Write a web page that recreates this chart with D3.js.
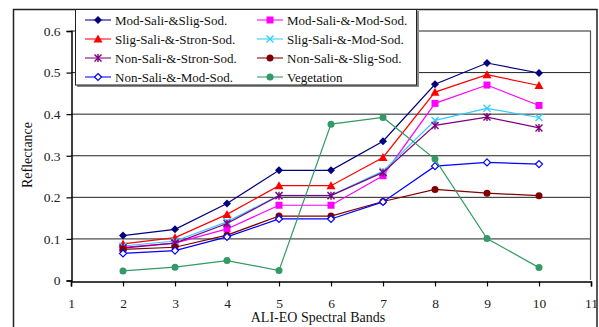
<!DOCTYPE html>
<html><head><meta charset="utf-8">
<script src="https://cdn.jsdelivr.net/npm/d3@7"></script>
<style>html,body{margin:0;padding:0;background:#fff;}svg{display:block;} svg text{font-family:"Liberation Serif",serif;}</style>
</head><body>
<script>
const bands = [2,3,4,5,6,7,8,9,10];
const xTicks = [1,2,3,4,5,6,7,8,9,10,11];
const yTicks = [0,0.1,0.2,0.3,0.4,0.5,0.6];
const seriesNames = ["Mod-Sali-&Slig-Sod.","Mod-Sali-&-Mod-Sod.","Slig-Sali-&-Stron-Sod.","Slig-Sali-&-Mod-Sod.","Non-Sali-&-Stron-Sod.","Non-Sali-&-Slig-Sod.","Non-Sali-&-Mod-Sod.","Vegetation"];
const modSaliSligSod   = [0.108,0.123,0.185,0.265,0.265,0.335,0.472,0.523,0.499];
const modSaliModSod    = [0.080,0.090,0.124,0.181,0.181,0.252,0.426,0.470,0.421];
const sligSaliStronSod = [0.088,0.103,0.159,0.228,0.228,0.296,0.453,0.495,0.469];
const sligSaliModSod   = [0.083,0.095,0.141,0.205,0.205,0.263,0.385,0.414,0.392];
const nonSaliStronSod  = [0.078,0.090,0.137,0.204,0.204,0.260,0.373,0.393,0.367];
const nonSaliSligSod   = [0.075,0.080,0.109,0.155,0.155,0.190,0.219,0.210,0.204];
const nonSaliModSod    = [0.065,0.072,0.105,0.148,0.148,0.189,0.275,0.284,0.280];
const vegetation       = [0.023,0.032,0.048,0.024,0.376,0.392,0.292,0.101,0.031];
const seriesValues = [modSaliSligSod,modSaliModSod,sligSaliStronSod,sligSaliModSod,nonSaliStronSod,nonSaliSligSod,nonSaliModSod,vegetation];
const colors = ["#000080","#FF00FF","#FF0000","#33CCFF","#800080","#800000","#0000FF","#339966"];
const markers = ["diamond","square","triangle","x","star","circle","odiamond","circle"];

const W=599,H=327;
const svg=d3.select("body").append("svg").attr("width",W).attr("height",H);
const font="Liberation Serif";

svg.append("rect").attr("x",13.5).attr("y",9.5).attr("width",583.5).attr("height",330)
  .attr("fill","none").attr("stroke","#222").attr("stroke-width",1.5);

const x=d3.scaleLinear().domain([1,11]).range([71,591]);
const y=d3.scaleLinear().domain([0,0.6]).range([280.5,31]);

svg.append("g").selectAll("line").data(yTicks.filter(d=>d>0)).join("line")
  .attr("x1",x(1)).attr("x2",x(11))
  .attr("y1",d=>y(d)).attr("y2",d=>y(d))
  .attr("stroke","#222").attr("stroke-width",1);
svg.append("line").attr("x1",590.5).attr("x2",590.5).attr("y1",y(0.6)).attr("y2",280)
  .attr("stroke","#555").attr("stroke-width",1.2);

const xAxis=d3.axisBottom(x).tickValues(xTicks).tickSize(5).tickPadding(12).tickFormat(d3.format("d"));
const gx=svg.append("g").attr("transform",`translate(0,${Math.round(y(0))+0.5})`).call(xAxis);
const yAxis=d3.axisLeft(y).tickValues(yTicks).tickSize(5).tickPadding(6).tickFormat(d=>d===0?"0":d3.format(".1f")(d));
const gy=svg.append("g").attr("transform","translate(71.5,0)").call(yAxis);
[gx,gy].forEach(g=>{
  g.attr("font-family",font).attr("font-size",13);
  g.select(".domain").attr("stroke","#000").attr("stroke-width",1.5);
  g.selectAll(".tick line").attr("stroke","#000").attr("stroke-width",1.2);
  g.selectAll("text").style("font-family",font).style("font-size","13.5px").attr("fill","#222");
});

svg.append("text").attr("x",318).attr("y",322).attr("text-anchor","middle")
  .style("font-family",font).style("font-size","14px").attr("fill","#111").text("ALI-EO Spectral Bands");
svg.append("text").attr("transform","translate(32,155) rotate(-90)").attr("text-anchor","middle")
  .style("font-family",font).style("font-size","14px").attr("fill","#111").text("Reflectance");

function drawMarker(g,type,color,cx,cy){
  if(type==="diamond"){g.append("path").attr("d",`M${cx},${cy-4}L${cx+4},${cy}L${cx},${cy+4}L${cx-4},${cy}Z`).attr("fill",color);}
  else if(type==="odiamond"){g.append("path").attr("d",`M${cx},${cy-3.5}L${cx+3.5},${cy}L${cx},${cy+3.5}L${cx-3.5},${cy}Z`).attr("fill","#fff").attr("stroke",color).attr("stroke-width",1.2);}
  else if(type==="square"){g.append("rect").attr("x",cx-3.5).attr("y",cy-3.5).attr("width",7).attr("height",7).attr("fill",color);}
  else if(type==="triangle"){g.append("path").attr("d",`M${cx},${cy-4.5}L${cx+4.5},${cy+3.5}L${cx-4.5},${cy+3.5}Z`).attr("fill",color);}
  else if(type==="circle"){g.append("circle").attr("cx",cx).attr("cy",cy).attr("r",3.5).attr("fill",color);}
  else if(type==="x"){g.append("path").attr("d",`M${cx-3.5},${cy-3.5}L${cx+3.5},${cy+3.5}M${cx-3.5},${cy+3.5}L${cx+3.5},${cy-3.5}`).attr("stroke",color).attr("stroke-width",1.4);}
  else if(type==="star"){g.append("path").attr("d",`M${cx-3.5},${cy-3.5}L${cx+3.5},${cy+3.5}M${cx-3.5},${cy+3.5}L${cx+3.5},${cy-3.5}M${cx},${cy-4}L${cx},${cy+4}`).attr("stroke",color).attr("stroke-width",1.4);}
}

const line=d3.line().x((d,i)=>x(bands[i])).y(d=>y(d));
seriesValues.forEach((vals,si)=>{
  const g=svg.append("g");
  g.append("path").attr("d",line(vals)).attr("fill","none").attr("stroke",colors[si]).attr("stroke-width",1.2);
  vals.forEach((v,i)=>drawMarker(g,markers[si],colors[si],x(bands[i]),y(v)));
});

const lg=svg.append("g");
lg.append("rect").attr("x",77).attr("y",11).attr("width",342).attr("height",76).attr("fill","#888");
lg.append("rect").attr("x",75.5).attr("y",9.5).attr("width",341).attr("height",75.5).attr("fill","#fff").attr("stroke","#222").attr("stroke-width",1);
seriesNames.forEach((name,i)=>{
  const col=i%2,row=Math.floor(i/2);
  const lx=col?257:85, ly=20+row*19;
  const g=lg.append("g");
  g.append("line").attr("x1",lx).attr("x2",lx+26).attr("y1",ly).attr("y2",ly).attr("stroke",colors[i]).attr("stroke-width",1.4).attr("opacity",0.75);
  drawMarker(g,markers[i],colors[i],lx+13,ly);
  g.append("text").attr("x",lx+30).attr("y",ly+4.5).style("font-family",font).style("font-size","13px").attr("fill","#111").text(name);
});
</script>
</body></html>
